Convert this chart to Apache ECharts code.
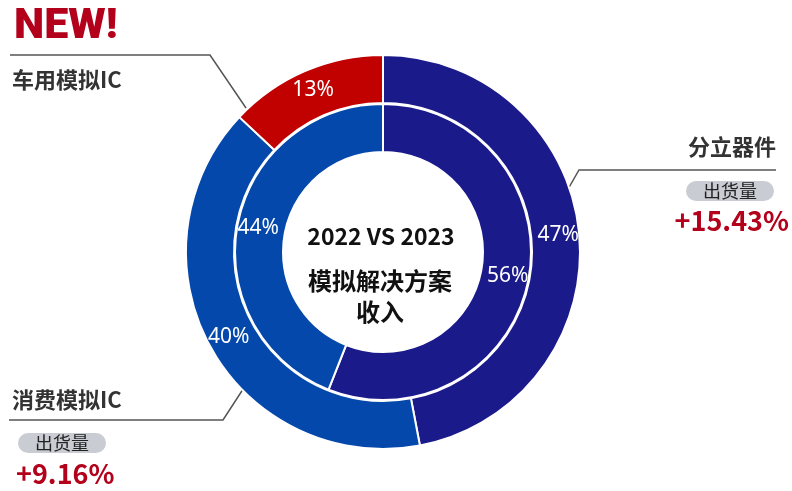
<!DOCTYPE html>
<html>
<head>
<meta charset="utf-8">
<script src="https://cdn.jsdelivr.net/npm/echarts@6/dist/echarts.min.js"></script>
<style>
  html, body { margin: 0; padding: 0; background: #fff; }
  #main { width: 792px; height: 491px; }
</style>
</head>
<body>
<div id="main"></div>
<script>
// 数据
const segmentNames = ['分立器件', '消费模拟IC', '车用模拟IC'];
const share2023 = [47, 40, 13];   // 外圈
const share2022 = [56, 44];       // 内圈
const segmentColors = ['#1b1a8b', '#0448ab', '#c10000'];
const shipmentGrowth = ['+15.43%', '+9.16%'];

const chart = echarts.init(document.getElementById('main'), null, { renderer: 'canvas' });

const cjk = '"Noto Sans CJK SC", "Noto Sans", sans-serif';
const darkText = '#333';
const accentRed = '#b3001b';
const lineColor = '#555';

function pieData(values) {
  return values.map((v, i) => ({
    name: segmentNames[i],
    value: v,
    itemStyle: { color: segmentColors[i] }
  }));
}

const pieLabel = {
  show: true,
  position: 'inside',
  formatter: '{c}%',
  color: '#fff',
  fontSize: 21,
  fontFamily: '"Noto Sans", sans-serif'
};

const option = {
  animation: false,
  backgroundColor: '#fff',
  series: [
    {
      name: '2022',
      type: 'pie',
      center: [383, 252],
      radius: [100, 148],
      startAngle: 90,
      silent: true,
      label: pieLabel,
      labelLine: { show: false },
      itemStyle: { borderColor: '#fff', borderWidth: 2 },
      data: pieData(share2022)
    },
    {
      name: '2023',
      type: 'pie',
      center: [383, 252],
      radius: [149, 197],
      startAngle: 90,
      silent: true,
      label: pieLabel,
      labelLine: { show: false },
      itemStyle: { borderColor: '#fff', borderWidth: 2 },
      data: pieData(share2023)
    }
  ],
  graphic: [
    // 中心文字
    { type: 'text', style: { text: '2022 VS 2023', x: 381, y: 236, align: 'center', verticalAlign: 'middle', font: 'bold 23px ' + cjk, fill: '#111' } },
    { type: 'text', style: { text: '模拟解决方案', x: 380, y: 281, align: 'center', verticalAlign: 'middle', font: 'bold 24px ' + cjk, fill: '#111' } },
    { type: 'text', style: { text: '收入', x: 380, y: 312, align: 'center', verticalAlign: 'middle', font: 'bold 24px ' + cjk, fill: '#111' } },

    // NEW!
    { type: 'text', style: { text: 'NEW!', x: 14, y: 27, align: 'left', verticalAlign: 'middle', font: '900 43px Roboto, sans-serif', fill: accentRed } },

    // 车用模拟IC
    { type: 'polyline', shape: { points: [[10, 55], [210, 55], [246, 108]] }, style: { stroke: lineColor, lineWidth: 1.5, fill: null } },
    { type: 'text', style: { text: segmentNames[2], x: 12, y: 80, align: 'left', verticalAlign: 'middle', font: 'bold 22px ' + cjk, fill: darkText } },

    // 分立器件
    { type: 'polyline', shape: { points: [[552, 217], [579, 170], [776, 170]] }, style: { stroke: lineColor, lineWidth: 1.5, fill: null } },
    { type: 'text', style: { text: segmentNames[0], x: 776, y: 147, align: 'right', verticalAlign: 'middle', font: 'bold 22px ' + cjk, fill: darkText } },
    { type: 'rect', shape: { x: 686, y: 181, width: 88, height: 20, r: 10 }, style: { fill: '#c9ccd2' } },
    { type: 'text', style: { text: '出货量', x: 730, y: 191, align: 'center', verticalAlign: 'middle', font: '18px ' + cjk, fill: '#222' } },
    { type: 'text', style: { text: shipmentGrowth[0], x: 789, y: 221, align: 'right', verticalAlign: 'middle', font: 'bold 27px ' + cjk, fill: accentRed } },

    // 消费模拟IC
    { type: 'polyline', shape: { points: [[9, 420], [223, 420], [249, 380]] }, style: { stroke: lineColor, lineWidth: 1.5, fill: null } },
    { type: 'text', style: { text: segmentNames[1], x: 12, y: 400, align: 'left', verticalAlign: 'middle', font: 'bold 22px ' + cjk, fill: darkText } },
    { type: 'rect', shape: { x: 18, y: 433, width: 88, height: 20, r: 10 }, style: { fill: '#c9ccd2' } },
    { type: 'text', style: { text: '出货量', x: 62, y: 443, align: 'center', verticalAlign: 'middle', font: '18px ' + cjk, fill: '#222' } },
    { type: 'text', style: { text: shipmentGrowth[1], x: 16, y: 474, align: 'left', verticalAlign: 'middle', font: 'bold 27px ' + cjk, fill: accentRed } }
  ]
};

chart.setOption(option);
</script>
</body>
</html>
